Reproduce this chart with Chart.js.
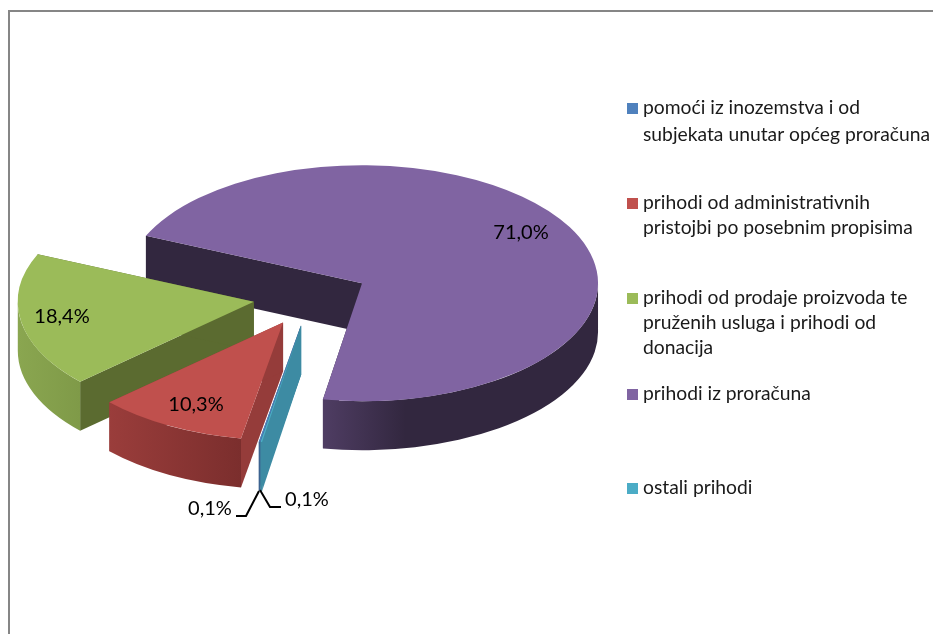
<!DOCTYPE html>
<html>
<head>
<meta charset="utf-8">
<title>Prihodi</title>
<script src="https://cdn.jsdelivr.net/npm/chart.js@4"></script>
<style>
  html, body { margin: 0; padding: 0; background: #fff; }
  canvas { display: block; }
</style>
</head>
<body>
<canvas id="grafico" width="933" height="634"></canvas>
<script>
// datos
const categorias = [
  "pomoći iz inozemstva i od subjekata unutar općeg proračuna",
  "prihodi od administrativnih pristojbi po posebnim propisima",
  "prihodi od prodaje proizvoda te pruženih usluga i prihodi od donacija",
  "prihodi iz proračuna",
  "ostali prihodi"
];
const valores = [0.1, 10.3, 18.4, 71.0, 0.1];

// lineas de la leyenda, igual que salen cortadas en el original
const lineasLeyenda = [
  ["pomoći iz inozemstva i od", "subjekata unutar općeg proračuna"],
  ["prihodi od administrativnih", "pristojbi po posebnim propisima"],
  ["prihodi od prodaje proizvoda te", "pruženih usluga i prihodi od", "donacija"],
  ["prihodi iz proračuna"],
  ["ostali prihodi"]
];

// colores
const colores = ["#4f81bd", "#c0504d", "#9bbb59", "#8064a2", "#4bacc6"];
const colorCorte = ["#3c6390", "#953c3a", "#5b6b30", "#32273f", "#3d8ba3"];
const paredIzq = ["#3c6390", "#9a3d3b", "#8aa650", "#4f3d63", "#3d8ba3"];
const paredDer = ["#3c6390", "#7b2e2d", "#7f9a48", "#32273f", "#3d8ba3"];
const paradaPared = [1, 1, 1, 0.3, 1];
const ordenDibujo = [3, 2, 1, 0, 4];

// geometria del "3D"
const aplastado = 0.5;
const profundidad = 49;
const separacion = 58;
const radio = 236;
const rotacion = 189.9;

// posicion de textos
const etiquetaX = [307, 196, 62, 521, 210];
const etiquetaY = [500, 405, 317, 233, 509];
const leyendaY = [108, 203, 298, 394, 488];
const pasoLeyenda = [27, 25, 25, 25, 25];
const lineasGuia = [
  [[281, 507], [270, 507], [260, 490]],
  [[236, 516], [246, 516], [259, 491]]
];

function textoPorcentaje(v) {
  return v.toFixed(1).replace(".", ",") + "%";
}

function desplazar(arc) {
  const medio = (arc.startAngle + arc.endAngle) / 2;
  return {
    x: arc.x + Math.cos(medio) * separacion,
    y: arc.y + Math.sin(medio) * separacion * aplastado
  };
}

function dibujarCorte(ctx, c, arc, angulo, color) {
  const px = c.x + Math.cos(angulo) * arc.outerRadius;
  const py = c.y + Math.sin(angulo) * arc.outerRadius * aplastado;
  ctx.fillStyle = color;
  ctx.beginPath();
  ctx.moveTo(c.x, c.y);
  ctx.lineTo(px, py);
  ctx.lineTo(px, py + profundidad);
  ctx.lineTo(c.x, c.y + profundidad);
  ctx.closePath();
  ctx.fill();
}

// pared curva: solo la parte del arco que mira hacia adelante
function dibujarPared(ctx, c, arc, i) {
  const r = arc.outerRadius;
  for (let n = 0; n < 2; n++) {
    const a0 = Math.max(arc.startAngle, n * 2 * Math.PI);
    const a1 = Math.min(arc.endAngle, n * 2 * Math.PI + Math.PI);
    if (a1 <= a0) continue;
    const x0 = c.x + Math.cos(a0) * r;
    const x1 = c.x + Math.cos(a1) * r;
    const grad = ctx.createLinearGradient(Math.min(x0, x1), 0, Math.max(x0, x1), 0);
    grad.addColorStop(0, paredIzq[i]);
    grad.addColorStop(paradaPared[i], paredDer[i]);
    if (paradaPared[i] < 1) grad.addColorStop(1, paredDer[i]);
    ctx.fillStyle = grad;
    ctx.beginPath();
    ctx.ellipse(c.x, c.y, r, r * aplastado, 0, a0, a1);
    ctx.ellipse(c.x, c.y + profundidad, r, r * aplastado, 0, a1, a0, true);
    ctx.closePath();
    ctx.fill();
  }
}

const pie3d = {
  id: "pie3d",
  beforeDraw(chart) {
    // marco del grafico, cortado a la derecha y abajo
    const ctx = chart.ctx;
    ctx.fillStyle = "#868686";
    ctx.fillRect(8, 10, 925, 2);
    ctx.fillRect(8, 10, 2, 624);
  },
  beforeDatasetDraw(chart) {
    const ctx = chart.ctx;
    const arcos = chart.getDatasetMeta(0).data;
    ordenDibujo.forEach(i => {
      const arc = arcos[i];
      const c = desplazar(arc);
      dibujarCorte(ctx, c, arc, arc.startAngle, colorCorte[i]);
      dibujarCorte(ctx, c, arc, arc.endAngle, colorCorte[i]);
      dibujarPared(ctx, c, arc, i);
      ctx.save();
      ctx.translate(c.x, c.y);
      ctx.scale(1, aplastado);
      ctx.translate(-arc.x, -arc.y);
      arc.draw(ctx);
      ctx.restore();
    });
    return false;
  },
  afterDraw(chart) {
    const ctx = chart.ctx;
    ctx.save();
    ctx.font = "20px Lato";
    ctx.fillStyle = "#000";
    ctx.textAlign = "center";
    ctx.textBaseline = "middle";
    valores.forEach((v, i) => ctx.fillText(textoPorcentaje(v), etiquetaX[i], etiquetaY[i]));

    ctx.strokeStyle = "#000";
    ctx.lineWidth = 2;
    lineasGuia.forEach(l => {
      ctx.beginPath();
      l.forEach((p, j) => j === 0 ? ctx.moveTo(p[0], p[1]) : ctx.lineTo(p[0], p[1]));
      ctx.stroke();
    });

    // leyenda
    ctx.font = "19.3px Lato";
    ctx.textAlign = "left";
    lineasLeyenda.forEach((lineas, i) => {
      ctx.fillStyle = colores[i];
      ctx.fillRect(627, leyendaY[i] - 5, 11, 11);
      ctx.fillStyle = "#1a1a1a";
      lineas.forEach((t, j) => ctx.fillText(t, 643, leyendaY[i] + j * pasoLeyenda[i]));
    });
    ctx.restore();
  }
};

new Chart(document.getElementById("grafico"), {
  type: "pie",
  data: {
    labels: categorias,
    datasets: [{
      data: valores,
      backgroundColor: colores,
      borderWidth: 0
    }]
  },
  options: {
    responsive: false,
    animation: false,
    rotation: rotacion,
    radius: radio,
    layout: { padding: { right: 311, bottom: 40 } },
    plugins: { legend: { display: false }, tooltip: { enabled: false } }
  },
  plugins: [pie3d]
});
</script>
</body>
</html>
